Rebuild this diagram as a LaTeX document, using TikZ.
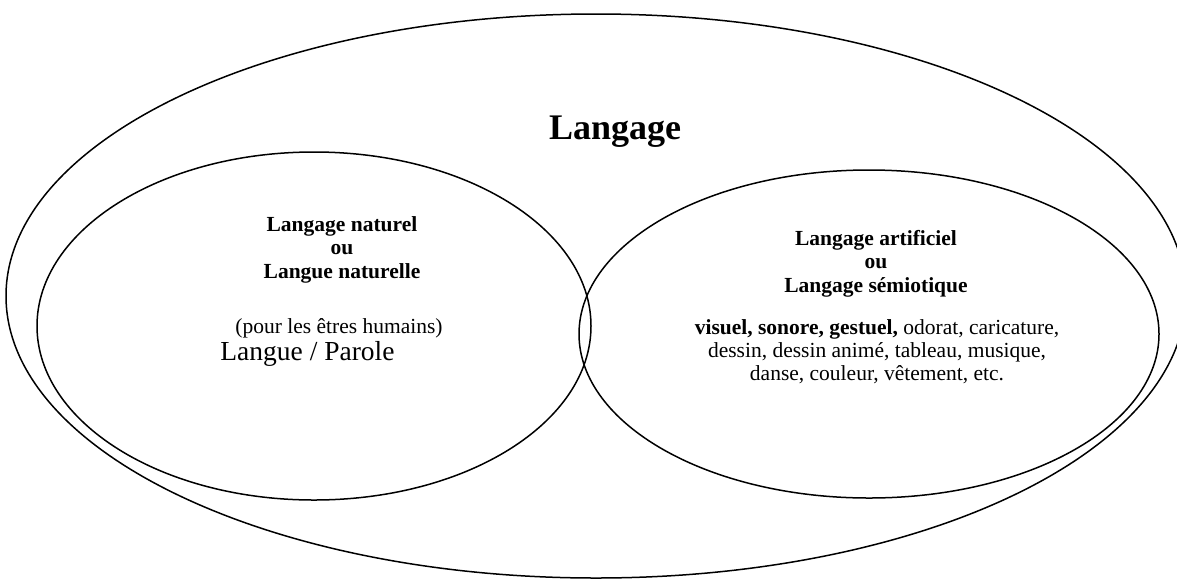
\documentclass[tikz,border=0pt]{standalone}
\usepackage{fontspec}
\setmainfont{Liberation Serif}
\usepackage{tikz}
\tikzset{
bubble/.style={line width=0.75pt},
title/.style={font=\bfseries\fontsize{18}{20}\selectfont, inner sep=0pt, anchor=base},
head/.style={font=\bfseries\fontsize{10.75}{11.6}\selectfont, align=center, inner sep=0pt, anchor=base},
body/.style={font=\fontsize{10.75}{11.5}\selectfont, align=center, inner sep=0pt, anchor=base},
big/.style={font=\fontsize{13.75}{15}\selectfont, inner sep=0pt, anchor=base west},
}

\begin{document}
\begin{tikzpicture}[x=0.5pt,y=-0.5pt]
\useasboundingbox (0,0) rectangle (1177,579);
% the three sets
\draw[bubble] (596,296) ellipse [x radius=590, y radius=282];
\draw[bubble] (314,326) ellipse [x radius=277, y radius=174];
\draw[bubble] (869,334) ellipse [x radius=290, y radius=164];
% the labels
\node[title] (lang) at (615,139) {Langage};
\node[head] (nat) at (342,278) {Langage naturel\\ou\\Langue naturelle};
\node[body] (hum) at (339,333) {(pour les êtres humains)};
\node[big] (lp) at (220,360) {Langue / Parole};
\node[head] (art) at (876,292) {Langage artificiel\\ou\\Langage sémiotique};
\node[body] (list) at (877,380) {\textbf{visuel, sonore, gestuel,} odorat, caricature,\\
  dessin, dessin animé, tableau, musique,\\danse, couleur, vêtement, etc.};
\end{tikzpicture}
\end{document}
